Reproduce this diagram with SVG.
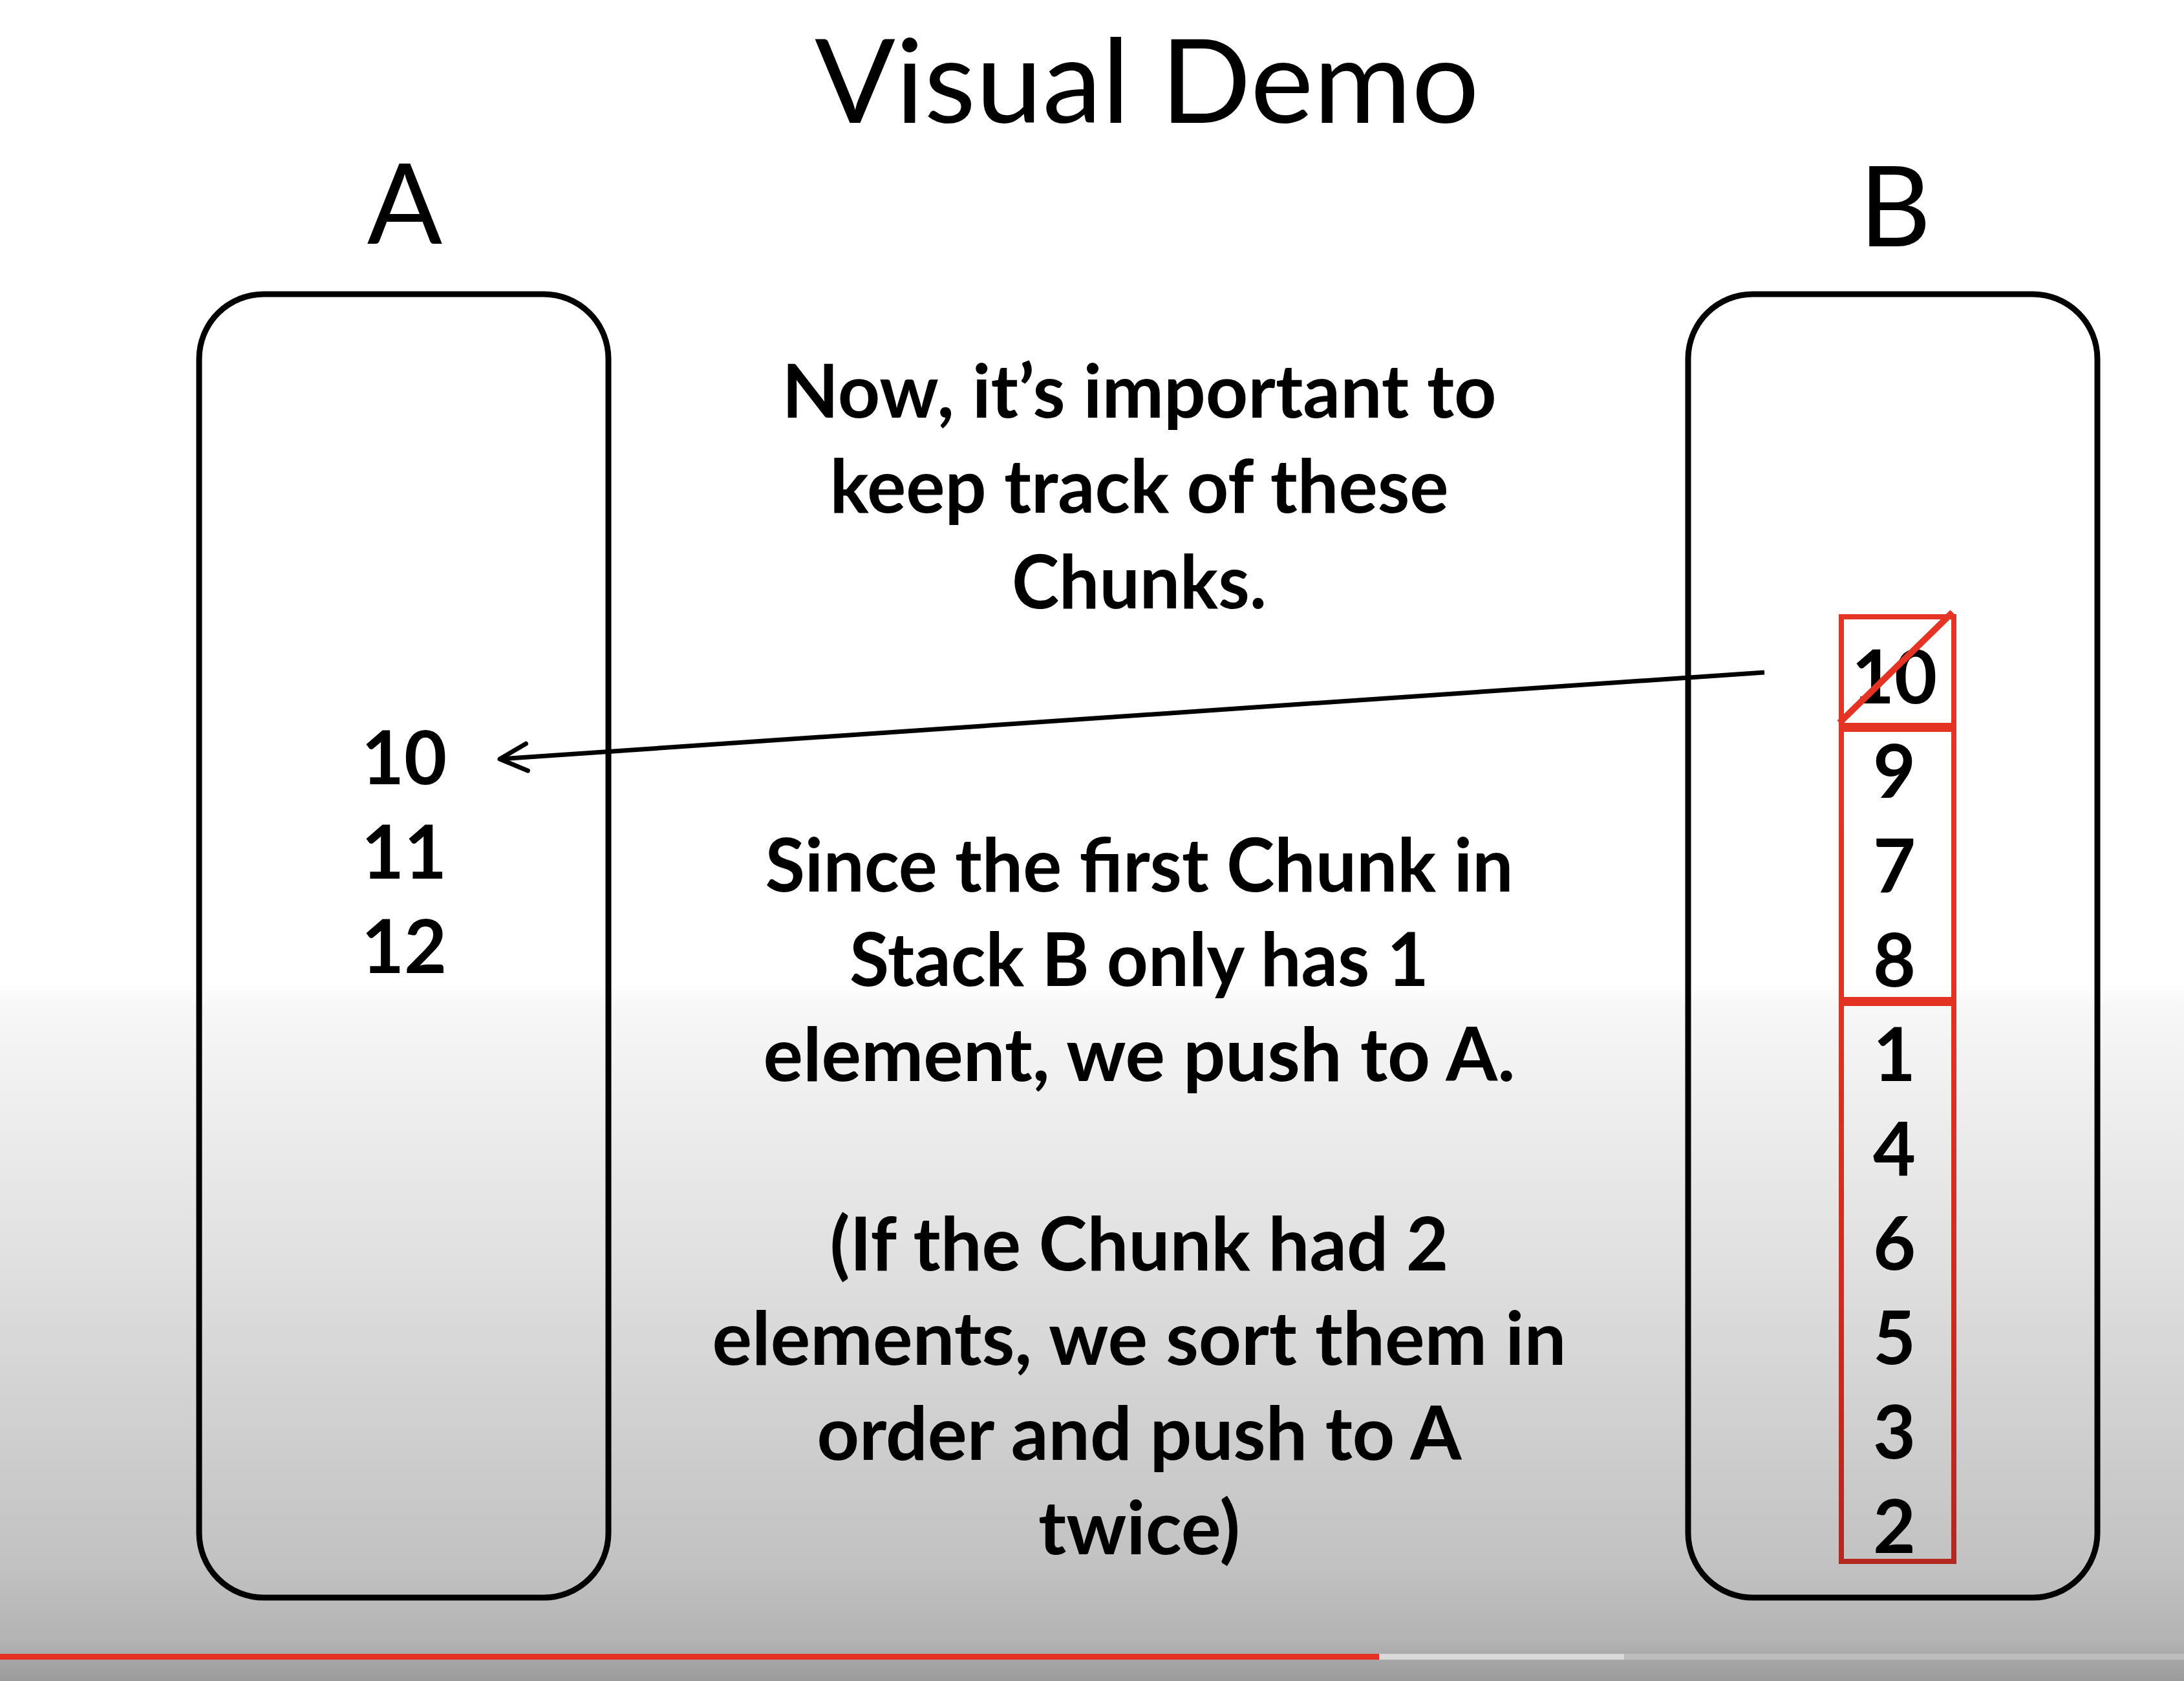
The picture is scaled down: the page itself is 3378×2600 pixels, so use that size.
<svg xmlns="http://www.w3.org/2000/svg" width="3378" height="2600" viewBox="0 0 3378 2600">
  <style>
    .title { font-family: Lato, "Open Sans", "Liberation Sans", sans-serif; font-weight: 400; fill: #000; text-anchor: middle; }
    .body { font-family: Lato, "Open Sans", "Liberation Sans", sans-serif; font-weight: 700; font-size: 114px; fill: #000; text-anchor: middle; }
    .stack { fill: none; stroke: #000; stroke-width: 9; }
    .chunk { fill: none; stroke: url(#redShade); stroke-width: 8; }
    .link { fill: none; stroke: #000; stroke-width: 7; }
  </style>
  <defs>
    <linearGradient id="bg" x1="0" y1="0" x2="0" y2="2600" gradientUnits="userSpaceOnUse">
      <stop offset="0" stop-color="#ffffff"/>
      <stop offset="0.585" stop-color="#ffffff"/>
      <stop offset="0.60" stop-color="#f7f7f7"/>
      <stop offset="0.75" stop-color="#e0e0e0"/>
      <stop offset="0.93" stop-color="#c2c2c2"/>
      <stop offset="0.975" stop-color="#b4b4b4"/>
      <stop offset="1" stop-color="#9a9a9a"/>
    </linearGradient>
    <linearGradient id="redShade" x1="0" y1="940" x2="0" y2="2420" gradientUnits="userSpaceOnUse">
      <stop offset="0" stop-color="#e53424"/>
      <stop offset="0.42" stop-color="#e33222"/>
      <stop offset="1" stop-color="#b2281f"/>
    </linearGradient>
    <marker id="openHead" viewBox="-50 -30 60 60" markerWidth="60" markerHeight="60" refX="0" refY="0" orient="auto" markerUnits="userSpaceOnUse">
      <path d="M-42,-21 L0,0 L-42,21" fill="none" stroke="#000" stroke-width="7" stroke-linecap="round" stroke-linejoin="round"/>
    </marker>
  </defs>

  <!-- slide background -->
  <rect x="0" y="0" width="3378" height="2600" fill="url(#bg)"/>

  <!-- heading -->
  <g id="title">
    <text class="title" x="1774" y="190" font-size="180" textLength="1028" lengthAdjust="spacingAndGlyphs">Visual Demo</text>
  </g>

  <!-- stack A -->
  <g id="stack-a">
    <text class="title" x="626" y="377" font-size="172">A</text>
    <rect class="stack" x="308" y="455" width="633" height="2016" rx="100" ry="100"/>
    <text class="body" x="625" y="1213">10</text>
    <text class="body" x="625" y="1359">11</text>
    <text class="body" x="625" y="1505">12</text>
  </g>

  <!-- stack B -->
  <g id="stack-b">
    <text class="title" x="2931" y="381" font-size="172">B</text>
    <rect class="stack" x="2611" y="455" width="633" height="2016" rx="100" ry="100"/>
    <text class="body" x="2930" y="1088">10</text>
    <text class="body" x="2930" y="1234">9</text>
    <text class="body" x="2930" y="1380">7</text>
    <text class="body" x="2930" y="1526">8</text>
    <text class="body" x="2930" y="1672">1</text>
    <text class="body" x="2930" y="1818">4</text>
    <text class="body" x="2930" y="1964">6</text>
    <text class="body" x="2930" y="2110">5</text>
    <text class="body" x="2930" y="2256">3</text>
    <text class="body" x="2930" y="2402">2</text>
  </g>

  <!-- chunk outlines in stack B -->
  <g id="chunks">
    <rect class="chunk" x="2848" y="954" width="174" height="168"/>
    <rect class="chunk" x="2848" y="1128" width="174" height="418"/>
    <rect class="chunk" x="2848" y="1552" width="174" height="863"/>
    <line x1="2845" y1="1118" x2="3020" y2="947" stroke="url(#redShade)" stroke-width="10"/>
  </g>

  <!-- explanation -->
  <g id="note-1">
    <text class="body" x="1762" y="646" textLength="1105" lengthAdjust="spacingAndGlyphs">Now, it’s important to</text>
    <text class="body" x="1762" y="793" textLength="957" lengthAdjust="spacingAndGlyphs">keep track of these</text>
    <text class="body" x="1762" y="941" textLength="394" lengthAdjust="spacingAndGlyphs">Chunks.</text>
  </g>
  <g id="note-2">
    <text class="body" x="1762" y="1379" textLength="1157" lengthAdjust="spacingAndGlyphs">Since the first Chunk in</text>
    <text class="body" x="1762" y="1525" textLength="896" lengthAdjust="spacingAndGlyphs">Stack B only has 1</text>
    <text class="body" x="1762" y="1672" textLength="1163" lengthAdjust="spacingAndGlyphs">element, we push to A.</text>
  </g>
  <g id="note-3">
    <text class="body" x="1762" y="1965" textLength="957" lengthAdjust="spacingAndGlyphs">(If the Chunk had 2</text>
    <text class="body" x="1762" y="2111" textLength="1321" lengthAdjust="spacingAndGlyphs">elements, we sort them in</text>
    <text class="body" x="1762" y="2258" textLength="997" lengthAdjust="spacingAndGlyphs">order and push to A</text>
    <text class="body" x="1762" y="2404" textLength="312" lengthAdjust="spacingAndGlyphs">twice)</text>
  </g>

  <!-- connectors -->
  <g id="connectors">
    <line class="link" x1="2729" y1="1040" x2="773" y2="1174" marker-end="url(#openHead)"/>
  </g>

  <!-- playback bar -->
  <g id="progress">
    <rect x="0" y="2558" width="3378" height="9" fill="#bdbdbd"/>
    <rect x="2133" y="2558" width="379" height="9" fill="#d9d9d9"/>
    <rect x="0" y="2558" width="2133" height="9" fill="#e53124"/>
  </g>
</svg>
